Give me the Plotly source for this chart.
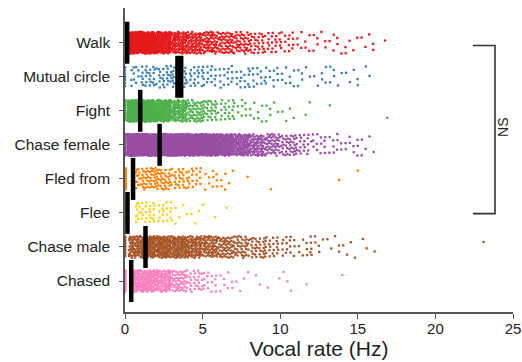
import plotly.graph_objects as go

# Behaviour categories, top to bottom
categories = ["Walk", "Mutual circle", "Fight", "Chase female",
              "Fled from", "Flee", "Chase male", "Chased"]
colors = ["#e41a1c", "#377eb8", "#4daf4a", "#984ea3",
          "#ff7f00", "#f7d11a", "#a65628", "#f781bf"]

# Number of bouts with a vocal rate of exactly 0 Hz
zero_counts = [60, 10, 40, 60, 150, 80, 30, 60]
# Lowest non-zero vocal rate seen in each category (Hz)
min_rate = [0.15, 0.4, 0.15, 0.15, 0.7, 0.7, 0.25, 0.45]

# Bout counts per 1-Hz bin of vocal rate (bin k covers k..k+1 Hz)
walk_counts = [200, 170, 120, 80, 65, 55, 48, 40, 28, 20, 14, 8, 7, 6, 5, 5, 1]
mutual_counts = [10, 24, 26, 28, 19, 16, 15, 13, 13, 11, 8, 6, 6, 6, 4, 3]
fight_counts = [200, 170, 120, 80, 45, 32, 20, 10, 8, 6, 4, 2]
chase_female_counts = [330, 300, 270, 240, 200, 170, 140, 95, 65, 48, 35, 22, 13, 10, 8, 5, 1]
fled_from_counts = [12, 40, 36, 26, 18, 10, 6]
flee_counts = [10, 22, 17, 6, 3, 2, 1]
chase_male_counts = [60, 110, 100, 90, 75, 62, 50, 40, 30, 22, 15, 10, 7, 5, 4, 2, 1]
chased_counts = [60, 100, 80, 50, 28, 15, 8, 4, 2, 2, 3]

# Isolated high-rate bouts (Hz)
fight_outliers = [13.2, 16.9]
fled_from_outliers = [7.9, 9.4, 13.8, 15.0]
chase_male_outliers = [23.1]
chased_outliers = [11.7, 14.0]

bin_counts = [walk_counts, mutual_counts, fight_counts, chase_female_counts,
              fled_from_counts, flee_counts, chase_male_counts, chased_counts]
outliers = [[], [], fight_outliers, [], fled_from_outliers, [],
            chase_male_outliers, chased_outliers]

# Median vocal rate per category (Hz); Mutual circle shows its spread as two bars
median_bars = [[0.14], [3.38, 3.62], [0.98], [2.23], [0.52], [0.16], [1.32], [0.40]]

x_ticks = [0, 5, 10, 15, 20, 25]

fig = go.Figure()

JITTER = 0.32
# additive-recurrence constants for an even 2-D spread of bouts inside a bin
A1, A2 = 0.7548776662, 0.5698402910

for i, (name, col) in enumerate(zip(categories, colors)):
    xs, ys = [], []
    idx = 0
    for k in range(zero_counts[i]):
        xs.append(0.0)
        ys.append(i + ((k * A2 + 0.5) % 1 - 0.5) * 2 * JITTER)
    for b, n in enumerate(bin_counts[i]):
        lo = max(b, min_rate[i]) if b == 0 else b
        hi = b + 1
        for k in range(n):
            idx += 1
            xs.append(lo + ((idx * A1 + 0.5) % 1) * (hi - lo))
            ys.append(i + ((idx * A2 + 0.5) % 1 - 0.5) * 2 * JITTER)
    for v in outliers[i]:
        idx += 1
        xs.append(v)
        ys.append(i + ((idx * A2 + 0.5) % 1 - 0.5) * 2 * JITTER)
    fig.add_trace(go.Scatter(
        x=xs, y=ys, mode="markers", name=name, showlegend=False,
        cliponaxis=False,
        marker=dict(color=col, size=2.3, symbol="square", line=dict(width=0)),
        hoverinfo="skip",
    ))

# median bars
mx, my = [], []
for i, vals in enumerate(median_bars):
    for v in vals:
        mx.append(v)
        my.append(i)
fig.add_trace(go.Scatter(
    x=mx, y=my, mode="markers", showlegend=False, cliponaxis=False,
    marker=dict(symbol="line-ns", size=30, line=dict(width=4.5, color="black")),
))

# NS bracket spanning Walk .. Flee
bx0, bx1 = 22.42, 23.84
fig.add_shape(type="path",
              path=f"M {bx0},0.08 L {bx1},0.08 L {bx1},5.02 L {bx0},5.02",
              xref="x", yref="y", line=dict(color="#333333", width=1.6))
fig.add_annotation(x=24.36, y=2.5, xref="x", yref="y", text="NS",
                   textangle=-90, showarrow=False,
                   font=dict(size=14, color="#222222"))

fig.update_layout(
    width=522, height=362,
    margin=dict(l=125, r=9, t=8, b=50),
    paper_bgcolor="white", plot_bgcolor="white",
    font=dict(family="Liberation Sans, Arial, sans-serif", color="#222222"),
    xaxis=dict(range=[0, 25], tickvals=x_ticks, ticktext=[str(t) for t in x_ticks],
               automargin=False, ticklabelstandoff=-3,
               showline=True, linecolor="#555555", linewidth=1.5,
               ticks="outside", ticklen=5, tickwidth=1.2, tickcolor="#555555",
               showgrid=False, zeroline=False,
               tickfont=dict(size=15),
               title=dict(text="Vocal rate (Hz)", font=dict(size=21), standoff=6)),
    yaxis=dict(range=[7.91, -1.02], tickvals=list(range(len(categories))),
               ticktext=categories, automargin=False, ticklabelstandoff=6,
               showline=True, linecolor="#555555", linewidth=1.5,
               ticks="outside", ticklen=4, tickwidth=1.2, tickcolor="#555555",
               showgrid=False, zeroline=False,
               tickfont=dict(size=15.5)),
)

fig.write_html("out.html")
